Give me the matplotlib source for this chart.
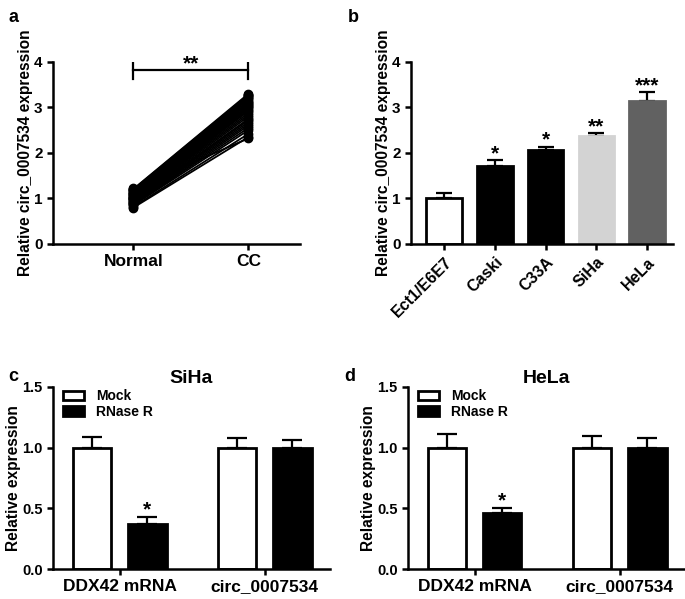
import numpy as np
import matplotlib.pyplot as plt

plt.rcParams['font.family'] = ['Liberation Sans', 'DejaVu Sans']
plt.rcParams['font.weight'] = 'bold'

# panel a: paired samples
normal_vals = [0.80, 0.82, 0.85, 0.87, 0.88, 0.90, 0.92, 0.93, 0.95, 0.96,
               0.98, 0.99, 1.00, 1.01, 1.02, 1.04, 1.05, 1.06, 1.08, 1.09,
               1.10, 1.12, 1.13, 1.15, 1.16, 1.18, 1.19, 1.20, 1.21, 1.22]
cc_vals = [2.35, 2.42, 2.50, 2.55, 2.60, 2.64, 2.68, 2.72, 2.75, 2.80,
           2.84, 2.88, 2.92, 2.95, 2.98, 3.00, 3.03, 3.05, 3.08, 3.10,
           3.12, 3.15, 3.18, 3.20, 3.22, 3.25, 3.27, 3.28, 3.30, 2.32]
group_labels = ["Normal", "CC"]

# panel b: cell lines
cell_lines = ["Ect1/E6E7", "Caski", "C33A", "SiHa", "HeLa"]
cell_means = [1.02, 1.72, 2.06, 2.38, 3.15]
cell_errs = [0.10, 0.12, 0.08, 0.06, 0.19]
cell_stars = ["", "*", "*", "**", "***"]
cell_colors = ["white", "black", "black", "#d3d3d3", "#616161"]

# panels c/d: RNase R treatment
targets = ["DDX42 mRNA", "circ_0007534"]
siha_mock = [1.0, 1.0]
siha_mock_err = [0.09, 0.08]
siha_rnase = [0.37, 0.995]
siha_rnase_err = [0.06, 0.065]
hela_mock = [1.0, 1.0]
hela_mock_err = [0.11, 0.10]
hela_rnase = [0.46, 1.0]
hela_rnase_err = [0.045, 0.08]

fig = plt.figure(figsize=(6.85, 5.99), dpi=100)

def style_axis(ax, ysize=11):
    for s in ["top", "right"]:
        ax.spines[s].set_visible(False)
    for s in ["left", "bottom"]:
        ax.spines[s].set_linewidth(1.8)
    ax.tick_params(width=1.8, length=4.5, pad=3)
    ax.tick_params(axis="y", labelsize=ysize)
    for lab in ax.get_yticklabels():
        lab.set_fontweight("bold")

# ---- a ----
ax = fig.add_axes([0.0774, 0.5927, 0.3606, 0.3038])
for n, c in zip(normal_vals, cc_vals):
    ax.plot([0, 1], [n, c], color="black", lw=1.3, marker="o", ms=6)
ax.set_xlim(-0.7, 0.45 + 1.0)
ax.set_ylim(0, 4)
ax.set_yticks([0, 1, 2, 3, 4])
ax.set_xticks([0, 1])
ax.set_xticklabels(group_labels, fontsize=12.5, fontweight="bold")
ax.set_ylabel("Relative circ_0007534 expression", fontsize=11.2, fontweight="bold", labelpad=1)
ax.plot([0, 1], [3.83, 3.83], color="black", lw=1.6)
ax.plot([0, 0], [3.63, 3.98], color="black", lw=1.6)
ax.plot([1, 1], [3.63, 3.98], color="black", lw=1.6)
ax.text(0.5, 3.74, "**", ha="center", va="bottom", fontsize=15, fontweight="bold")
style_axis(ax)
fig.text(0.012, 0.985, "a", fontsize=13, fontweight="bold", va="top")

# ---- b ----
ax = fig.add_axes([0.600, 0.5927, 0.382, 0.3038])
xb = np.arange(len(cell_lines))
ax.bar(xb, cell_means, width=0.7, color=cell_colors,
       edgecolor=["black", "black", "black", "#d3d3d3", "#616161"], linewidth=2, zorder=2)
ax.errorbar(xb, cell_means, yerr=[np.zeros(len(xb)), cell_errs], fmt="none",
            ecolor="black", elinewidth=1.6, capsize=6, capthick=1.6, zorder=1)
for i, s in enumerate(cell_stars):
    if s:
        ax.text(xb[i], cell_means[i] + cell_errs[i] - 0.07, s, ha="center", va="bottom",
                fontsize=15, fontweight="bold")
ax.set_xlim(-0.65, 4.5)
ax.set_ylim(0, 4)
ax.set_yticks([0, 1, 2, 3, 4])
ax.set_xticks(xb)
ax.set_xticklabels(cell_lines, rotation=45, ha="right", rotation_mode="anchor",
                   fontsize=11.5, fontweight="bold")
ax.set_ylabel("Relative circ_0007534 expression", fontsize=11.2, fontweight="bold", labelpad=1)
style_axis(ax)
fig.text(0.508, 0.985, "b", fontsize=13, fontweight="bold", va="top")

# ---- c, d ----
def rnase_panel(rect, title, mock, mock_err, rn, rn_err, label, lx):
    ax = fig.add_axes(rect)
    x = np.arange(len(targets))
    off, w = 0.19, 0.265
    ax.bar(x - off, mock, width=w, color="white", edgecolor="black", linewidth=2,
           label="Mock", zorder=2)
    ax.bar(x + off, rn, width=w, color="black", edgecolor="black", linewidth=2,
           label="RNase R", zorder=2)
    ax.errorbar(x - off, mock, yerr=[[0, 0], mock_err], fmt="none", ecolor="black",
                elinewidth=1.6, capsize=7, capthick=1.6, zorder=1)
    ax.errorbar(x + off, rn, yerr=[[0, 0], rn_err], fmt="none", ecolor="black",
                elinewidth=1.6, capsize=7, capthick=1.6, zorder=1)
    ax.text(x[0] + off, rn[0] + rn_err[0] - 0.025, "*", ha="center", va="bottom",
            fontsize=15, fontweight="bold")
    ax.set_ylim(0, 1.5)
    ax.set_yticks([0, 0.5, 1.0, 1.5])
    ax.set_yticklabels(["0.0", "0.5", "1.0", "1.5"])
    ax.set_xticks(x)
    ax.set_xticklabels(targets, fontsize=12.5, fontweight="bold")
    ax.set_ylabel("Relative expression", fontsize=11.2, fontweight="bold", labelpad=1)
    ax.set_title(title, fontsize=14, fontweight="bold", pad=3)
    leg = ax.legend(loc="upper left", bbox_to_anchor=(0.0, 1.04), frameon=False,
                    fontsize=10, handlelength=1.5, handleheight=0.65,
                    labelspacing=0.1, handletextpad=0.9, borderaxespad=0.3)
    for t in leg.get_texts():
        t.set_fontweight("bold")
    style_axis(ax, ysize=10.5)
    fig.text(lx, 0.385, label, fontsize=13, fontweight="bold", va="top")
    return ax

ax = rnase_panel([0.0774, 0.050, 0.4044, 0.304], "SiHa", siha_mock, siha_mock_err,
                 siha_rnase, siha_rnase_err, "c", 0.012)
ax.set_xlim(-0.46, 1.45)
ax = rnase_panel([0.5956, 0.050, 0.4044, 0.304], "HeLa", hela_mock, hela_mock_err,
                 hela_rnase, hela_rnase_err, "d", 0.503)
ax.set_xlim(-0.46, 1.45)

fig.savefig("out.png", dpi=100)
